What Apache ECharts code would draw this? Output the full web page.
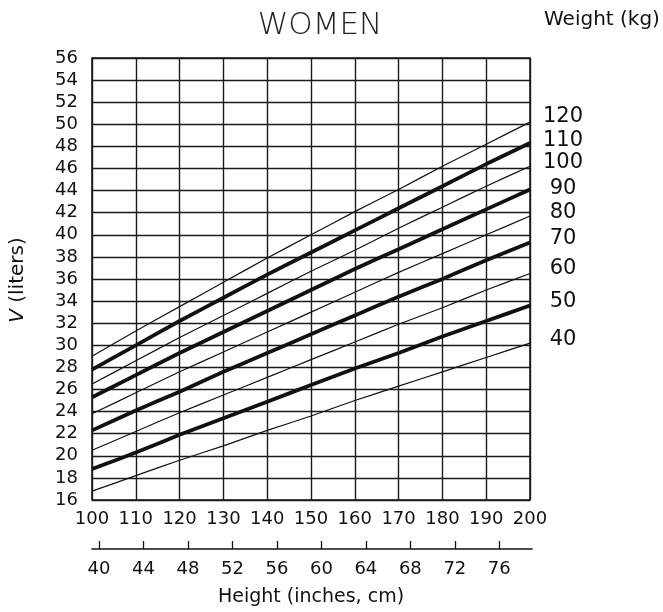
<!DOCTYPE html>
<html><head><meta charset="utf-8">
<script src="https://cdn.jsdelivr.net/npm/echarts@6/dist/echarts.min.js"></script>
<style>html,body{margin:0;padding:0;background:#fff}#c{width:663px;height:612px}</style>
</head><body><div id="c"></div>
<script>
// Data
const heightsCm = [100, 110, 120, 130, 140, 150, 160, 170, 180, 190, 200];
const inchTicks = [40, 44, 48, 52, 56, 60, 64, 68, 72, 76];
const weightLabels = ['40', '50', '60', '70', '80', '90', '100', '110', '120'];
const v40  = [16.8, 18.2, 19.6, 20.9, 22.3, 23.6, 25.0, 26.3, 27.6, 28.9, 30.2];
const v50  = [18.8, 20.3, 21.9, 23.4, 24.9, 26.4, 27.9, 29.3, 30.8, 32.2, 33.6];
const v60  = [20.5, 22.2, 23.9, 25.5, 27.1, 28.7, 30.3, 31.9, 33.4, 35.0, 36.5];
const v70  = [22.3, 24.1, 25.8, 27.6, 29.3, 31.0, 32.7, 34.4, 36.0, 37.7, 39.3];
const v80  = [23.8, 25.7, 27.6, 29.4, 31.2, 33.0, 34.8, 36.6, 38.3, 40.0, 41.7];
const v90  = [25.3, 27.3, 29.3, 31.2, 33.1, 35.0, 36.9, 38.7, 40.5, 42.3, 44.1];
const v100 = [26.5, 28.6, 30.7, 32.7, 34.7, 36.7, 38.6, 40.6, 42.5, 44.4, 46.2];
const v110 = [27.8, 30.0, 32.2, 34.3, 36.4, 38.4, 40.4, 42.4, 44.4, 46.4, 48.3];
const v120 = [29.0, 31.3, 33.5, 35.7, 37.9, 40.0, 42.1, 44.1, 46.2, 48.2, 50.2];
const seriesValues = [v40, v50, v60, v70, v80, v90, v100, v110, v120];
const thick = [false, true, false, true, false, true, false, true, false];
const labelDy = [-4, -4, -5, -4, -3, -1, -4, -3, -6];

const FONT = 'DejaVu Sans';
const chart = echarts.init(document.getElementById('c'), null, {renderer: 'canvas'});

const series = seriesValues.map((vals, i) => ({
  type: 'line',
  xAxisIndex: 0, yAxisIndex: 0,
  data: heightsCm.map((h, j) => [h, vals[j]]),
  showSymbol: false,
  symbol: 'none',
  smooth: 0.2,
  silent: true,
  lineStyle: {color: '#111', width: thick[i] ? 3.8 : 1.2},
  endLabel: {
    show: true,
    formatter: weightLabels[i],
    color: '#111',
    fontFamily: FONT,
    fontSize: 21,
    align: 'center',
    verticalAlign: 'middle',
    distance: 0,
    offset: [33, labelDy[i]]
  }
}));

chart.setOption({
  animation: false,
  backgroundColor: '#fff',
  grid: [
    {left: 92, top: 58, width: 438, height: 442, show: true, borderColor: '#111', borderWidth: 1.5, backgroundColor: 'transparent'},
    {left: 92, top: 548, width: 440, height: 1}
  ],
  xAxis: [
    {
      type: 'value', gridIndex: 0, min: 100, max: 200, interval: 10,
      axisLine: {show: false}, axisTick: {show: false},
      axisLabel: {color: '#111', fontFamily: FONT, fontSize: 18, margin: 10},
      splitLine: {show: true, lineStyle: {color: '#1a1a1a', width: 1.4}}
    },
    {
      type: 'value', gridIndex: 1, min: 100 / 2.54, max: 200 / 2.54 + 0.2,
      axisLine: {show: true, onZero: false, lineStyle: {color: '#111', width: 1.5}},
      axisTick: {show: true, inside: true, length: 8, customValues: inchTicks, lineStyle: {color: '#111', width: 1.3}},
      axisLabel: {customValues: inchTicks, color: '#111', fontFamily: FONT, fontSize: 18, margin: 11},
      splitLine: {show: false}
    }
  ],
  yAxis: [
    {
      type: 'value', gridIndex: 0, min: 16, max: 56, interval: 2,
      axisLine: {show: false}, axisTick: {show: false},
      axisLabel: {color: '#111', fontFamily: FONT, fontSize: 18, margin: 14},
      splitLine: {show: true, lineStyle: {color: '#1a1a1a', width: 1.4}}
    },
    {type: 'value', gridIndex: 1, min: 0, max: 1, show: false}
  ],
  series: series,
  graphic: [
    {type: 'text', style: {text: 'WOMEN', x: 320, y: 26, align: 'center', verticalAlign: 'middle', fontFamily: FONT, fontWeight: 200, fontSize: 31, fill: '#222'}},
    {type: 'text', style: {text: 'Weight (kg)', x: 544, y: 20, align: 'left', verticalAlign: 'middle', fontFamily: FONT, fontSize: 20, fill: '#111'}},
    {type: 'text', style: {text: 'Height (inches, cm)', x: 311, y: 597, align: 'center', verticalAlign: 'middle', fontFamily: FONT, fontSize: 19, fill: '#111'}},
    {type: 'text', x: 18, y: 280, rotation: Math.PI / 2, style: {text: '{i|V} (liters)', x: 0, y: 0, align: 'center', verticalAlign: 'middle', fontFamily: FONT, fontSize: 20, fill: '#111', rich: {i: {fontStyle: 'italic', fontFamily: FONT, fontSize: 20, fill: '#111'}}}}
  ]
});
</script>
</body></html>
